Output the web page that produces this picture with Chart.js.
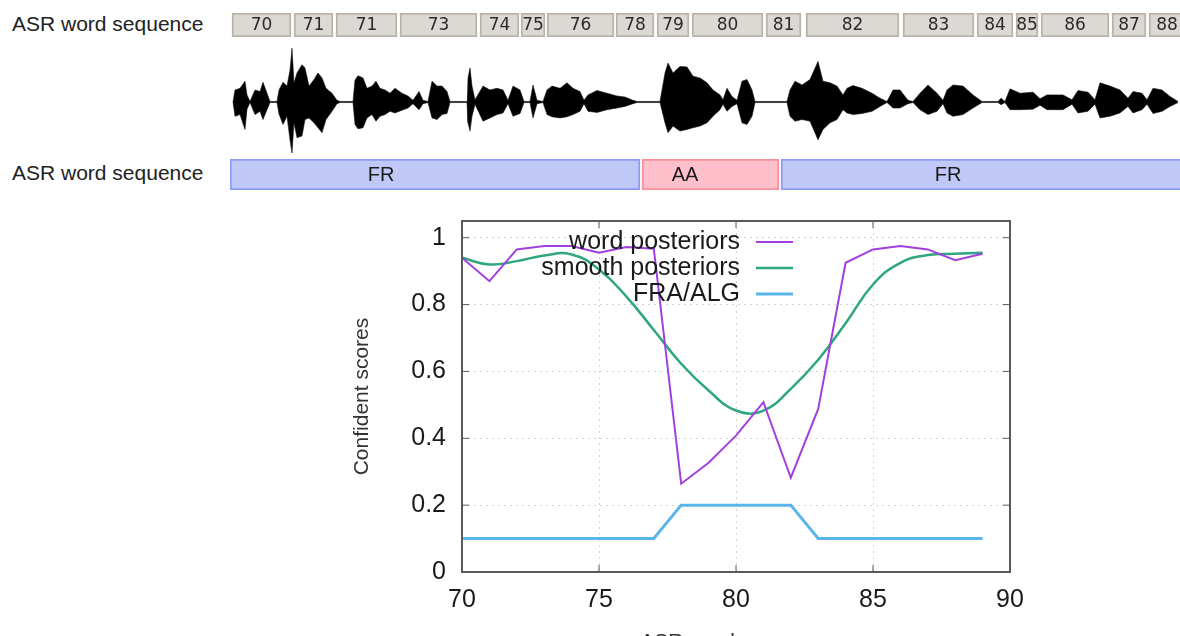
<!DOCTYPE html>
<html>
<head>
<meta charset="utf-8">
<script src="https://cdn.jsdelivr.net/npm/chart.js@4.4.1/dist/chart.umd.min.js"></script>
<style>
  html, body { margin: 0; padding: 0; width: 1180px; height: 636px; overflow: hidden; background: #fff; }
  canvas { position: absolute; }
  .rowlabel {
    position: absolute; left: 12px; white-space: nowrap; line-height: 1;
    font-family: 'Liberation Sans', Arial, sans-serif; font-size: 21px; color: #222;
  }
</style>
</head>
<body>
<div class="rowlabel" style="top:13px">ASR word sequence</div>
<div class="rowlabel" style="top:162px">ASR word sequence</div>
<canvas id="words" width="950" height="24" style="left:230px;top:13px"></canvas>
<canvas id="wave" width="950" height="114" style="left:230px;top:45px"></canvas>
<canvas id="lang" width="950" height="31" style="left:230px;top:159px"></canvas>
<canvas id="scores" width="720" height="470" style="left:340px;top:190px"></canvas>
<script>
// ---- audio timeline (seconds) ----
const timelineEnd = 9.5;

// recognised words and their time spans
const wordLabels = ['70','71','71','73','74','75','76','78','79','80','81','82','83','84','85','86','87','88'];
const wordStart  = [0.02,0.64,1.06,1.70,2.50,2.91,3.17,3.86,4.27,4.62,5.36,5.76,6.73,7.47,7.86,8.11,8.82,9.19];
const wordEnd    = [0.61,1.03,1.67,2.47,2.89,3.15,3.84,4.24,4.59,5.33,5.71,6.69,7.44,7.83,8.08,8.79,9.16,9.55];

// language segments and where their tags sit
const langLabels = ['FR','AA','FR'];
const langStart  = [0.00,4.12,5.51];
const langEnd    = [4.10,5.49,9.55];
const langTagAt  = [1.51,4.55,7.18];

// waveform amplitude envelope (normalised)
const waveTime = [0.03,0.05,0.10,0.15,0.17,0.20,0.25,0.30,0.33,0.37,
  0.40,0.47,0.49,0.53,0.57,0.60,0.62,0.64,0.67,0.72,
  0.75,0.79,0.84,0.88,0.92,0.96,1.02,1.07,1.10,1.23,
  1.25,1.28,1.33,1.37,1.42,1.46,1.50,1.55,1.60,1.65,
  1.72,1.78,1.83,1.89,1.93,1.98,2.02,2.07,2.12,2.17,
  2.20,2.37,2.38,2.40,2.42,2.45,2.53,2.60,2.67,2.73,
  2.78,2.83,2.90,2.94,3.00,3.03,3.07,3.13,3.17,3.22,
  3.30,3.37,3.43,3.50,3.54,3.58,3.67,3.77,3.87,3.95,
  4.03,4.07,4.27,4.30,4.35,4.38,4.43,4.50,4.57,4.63,
  4.70,4.77,4.83,4.90,4.93,4.97,5.02,5.07,5.12,5.17,
  5.22,5.25,5.57,5.60,5.65,5.72,5.80,5.88,5.93,6.00,
  6.07,6.13,6.17,6.23,6.32,6.42,6.50,6.57,6.63,6.70,
  6.78,6.83,6.90,6.98,7.07,7.13,7.17,7.23,7.33,7.43,
  7.52,7.68,7.71,7.75,7.80,7.90,8.03,8.10,8.17,8.33,
  8.42,8.48,8.58,8.65,8.70,8.80,8.90,8.98,9.03,9.12,
  9.17,9.23,9.32,9.40,9.48];
const waveUpper = [0,.22,.25,.38,.13,.01,.22,.19,.36,.16,
  .01,.01,.22,.36,.29,.58,.98,.35,.53,.68,
  .62,.29,.41,.53,.44,.25,.16,.03,.01,.01,
  .40,.48,.44,.25,.29,.38,.25,.22,.16,.25,
  .16,.11,.03,.19,.03,.01,.38,.29,.29,.19,
  .01,.01,.44,.62,.29,.04,.29,.22,.25,.22,
  .03,.29,.22,.01,.01,.31,.03,.01,.22,.29,
  .25,.35,.25,.19,.03,.13,.21,.16,.11,.09,
  .03,.01,.01,.01,.53,.71,.53,.65,.64,.47,
  .44,.35,.22,.13,.04,.25,.10,.03,.38,.41,
  .22,.01,.01,.22,.38,.31,.41,.74,.38,.35,
  .29,.13,.25,.30,.25,.16,.07,.01,.22,.22,
  .03,.01,.16,.31,.16,.03,.22,.31,.29,.13,
  .01,.01,.07,.01,.24,.16,.18,.06,.13,.13,
  .04,.21,.18,.04,.35,.29,.22,.07,.19,.16,
  .04,.25,.22,.10,.01];
const waveLower = [0,-.26,-.23,-.50,-.13,-.01,-.23,-.17,-.32,-.14,
  -.01,-.01,-.22,-.41,-.26,-.69,-.93,-.38,-.65,-.62,
  -.32,-.29,-.38,-.47,-.56,-.32,-.17,-.03,-.01,-.01,
  -.41,-.49,-.47,-.29,-.23,-.35,-.26,-.23,-.17,-.20,
  -.15,-.11,-.03,-.14,-.03,-.01,-.29,-.32,-.23,-.21,
  -.01,-.01,-.38,-.53,-.26,-.04,-.35,-.29,-.23,-.20,
  -.03,-.26,-.21,-.01,-.01,-.29,-.03,-.01,-.23,-.27,
  -.29,-.27,-.23,-.17,-.03,-.17,-.19,-.14,-.11,-.08,
  -.03,-.01,-.01,-.01,-.38,-.56,-.44,-.53,-.50,-.47,
  -.44,-.38,-.26,-.14,-.04,-.17,-.08,-.03,-.38,-.41,
  -.26,-.01,-.01,-.26,-.35,-.32,-.35,-.69,-.50,-.38,
  -.32,-.14,-.20,-.23,-.21,-.17,-.08,-.01,-.11,-.11,
  -.03,-.01,-.14,-.23,-.17,-.03,-.20,-.26,-.23,-.11,
  -.01,-.01,-.05,-.01,-.14,-.14,-.13,-.06,-.14,-.14,
  -.04,-.20,-.17,-.04,-.29,-.26,-.20,-.08,-.20,-.14,
  -.04,-.21,-.17,-.08,-.01];

// ---- confidence scores per word index ----
const wordIndex        = [70,71,72,73,74,75,76,77,78,79,80,81,82,83,84,85,86,87,88,89];
const wordPosteriors   = [0.94,0.87,0.965,0.975,0.975,0.955,0.972,0.967,0.264,0.327,0.408,0.508,0.282,0.488,0.925,0.965,0.975,0.965,0.933,0.952];
const smoothPosteriors = [0.94,0.92,0.93,0.947,0.95,0.905,0.824,0.724,0.623,0.543,0.483,0.483,0.548,0.635,0.744,0.86,0.925,0.948,0.952,0.955];
const fraAlg           = [0.1,0.1,0.1,0.1,0.1,0.1,0.1,0.1,0.2,0.2,0.2,0.2,0.2,0.1,0.1,0.1,0.1,0.1,0.1,0.1];
const scoreTicks       = [0,0.2,0.4,0.6,0.8,1];

Chart.defaults.font.family = "'Liberation Sans', Arial, sans-serif";

// writes a text label on each bar (at its centre, or at a given time)
const barText = {
  id: 'barText',
  afterDatasetsDraw(chart, args, opts) {
    const ctx = chart.ctx;
    const meta = chart.getDatasetMeta(0);
    ctx.save();
    ctx.font = opts.font;
    ctx.fillStyle = opts.color;
    ctx.textAlign = 'center';
    ctx.textBaseline = 'middle';
    meta.data.forEach((el, i) => {
      const p = el.getProps(['x', 'base', 'y'], true);
      const cx = opts.at ? chart.scales.x.getPixelForValue(opts.at[i]) : (p.x + p.base) / 2;
      ctx.fillText(opts.labels[i], cx, p.y + (opts.dy || 0));
    });
    ctx.restore();
  }
};

const hiddenTimeline = {
  x: { type: 'linear', min: 0, max: timelineEnd, display: false },
  y: { display: false }
};
const quiet = { legend: { display: false }, tooltip: { enabled: false } };

// word boxes
new Chart(document.getElementById('words'), {
  type: 'bar',
  data: {
    labels: ['w'],
    datasets: [{
      data: wordStart.map((s, i) => ({ x: [s, wordEnd[i]], y: 'w' })),
      backgroundColor: '#dcd9d4', borderColor: '#bab3aa', borderWidth: 2,
      borderSkipped: false, barPercentage: 1, categoryPercentage: 1
    }]
  },
  options: {
    indexAxis: 'y', responsive: false, animation: false, events: [],
    layout: { padding: 0 },
    plugins: { ...quiet, barText: { labels: wordLabels, font: "17px 'DejaVu Sans'", color: '#2a2a2a', dy: 1 } },
    scales: hiddenTimeline
  },
  plugins: [barText]
});

// waveform envelope
new Chart(document.getElementById('wave'), {
  type: 'line',
  data: {
    datasets: [
      { data: waveTime.map((t, i) => ({ x: t, y: waveUpper[i] })), borderColor: '#111', borderWidth: 0.6, pointRadius: 0, fill: false },
      { data: waveTime.map((t, i) => ({ x: t, y: waveLower[i] })), borderColor: '#111', backgroundColor: '#000', borderWidth: 0.6, pointRadius: 0, fill: '-1' }
    ]
  },
  options: {
    responsive: false, animation: false, events: [],
    layout: { padding: 0 },
    plugins: quiet,
    scales: {
      x: { type: 'linear', min: 0, max: timelineEnd, display: false },
      y: { min: -1.04, max: 1.04, display: false }
    }
  }
});

// language segments
new Chart(document.getElementById('lang'), {
  type: 'bar',
  data: {
    labels: ['l'],
    datasets: [{
      data: langStart.map((s, i) => ({ x: [s, langEnd[i]], y: 'l' })),
      backgroundColor: langLabels.map(l => l === 'AA' ? '#ffc0cb' : '#c0c8f8'),
      borderColor: langLabels.map(l => l === 'AA' ? '#f7909a' : '#8d9cf3'),
      borderWidth: 2, borderSkipped: false, barPercentage: 1, categoryPercentage: 1
    }]
  },
  options: {
    indexAxis: 'y', responsive: false, animation: false, events: [],
    layout: { padding: 0 },
    plugins: { ...quiet, barText: { labels: langLabels, at: langTagAt, font: "20px 'Liberation Sans'", color: '#1a1a1a', dy: 1 } },
    scales: hiddenTimeline
  },
  plugins: [barText]
});

// plot frame with inward tick marks
const frame = {
  id: 'frame',
  afterDatasetsDraw(chart, args, o) {
    const { ctx, chartArea: a, scales: { x, y } } = chart;
    ctx.save();
    ctx.strokeStyle = o.color;
    ctx.lineWidth = 1;
    ctx.beginPath();
    x.ticks.forEach(t => {
      const px = x.getPixelForValue(t.value);
      ctx.moveTo(px, a.bottom); ctx.lineTo(px, a.bottom - o.tick);
      ctx.moveTo(px, a.top); ctx.lineTo(px, a.top + o.tick);
    });
    y.ticks.forEach(t => {
      const py = y.getPixelForValue(t.value);
      ctx.moveTo(a.left, py); ctx.lineTo(a.left + o.tick, py);
      ctx.moveTo(a.right, py); ctx.lineTo(a.right - o.tick, py);
    });
    ctx.stroke();
    ctx.lineWidth = o.width;
    ctx.strokeRect(a.left, a.top, a.right - a.left, a.bottom - a.top);
    ctx.restore();
  }
};

// key: right-aligned text followed by a line sample
const keyLegend = {
  id: 'keyLegend',
  afterDatasetsDraw(chart, args, o) {
    const { ctx, chartArea: a } = chart;
    ctx.save();
    ctx.font = o.font;
    ctx.textAlign = 'right';
    ctx.textBaseline = 'middle';
    chart.data.datasets.forEach((ds, i) => {
      const yy = a.top + o.top + i * o.rowHeight;
      ctx.fillStyle = o.color;
      ctx.fillText(ds.label, a.left + o.textRight, yy);
      ctx.strokeStyle = ds.borderColor;
      ctx.lineWidth = ds.borderWidth;
      ctx.beginPath();
      ctx.moveTo(a.left + o.lineStart, yy);
      ctx.lineTo(a.left + o.lineEnd, yy);
      ctx.stroke();
    });
    ctx.restore();
  }
};

const pts = arr => wordIndex.map((x, i) => ({ x, y: arr[i] }));

new Chart(document.getElementById('scores'), {
  type: 'line',
  data: {
    datasets: [
      { label: 'word posteriors', data: pts(wordPosteriors), borderColor: '#a23fe0', borderWidth: 2, pointRadius: 0, tension: 0 },
      { label: 'smooth posteriors', data: pts(smoothPosteriors), borderColor: '#2fa67f', borderWidth: 2.5, pointRadius: 0, tension: 0.45 },
      { label: 'FRA/ALG', data: pts(fraAlg), borderColor: '#5ab6ea', borderWidth: 3, pointRadius: 0, tension: 0 }
    ]
  },
  options: {
    responsive: false, animation: false, events: [],
    layout: { padding: { left: 0, top: 21, right: 50, bottom: 5 } },
    plugins: {
      ...quiet,
      frame: { color: '#5a5a5a', width: 2, tick: 7 },
      keyLegend: { font: "25px 'Liberation Sans'", color: '#1a1a1a', top: 21, rowHeight: 26, textRight: 278, lineStart: 294, lineEnd: 331 }
    },
    scales: {
      x: {
        type: 'linear', min: 70, max: 90,
        afterFit(s) { s.height = 83; },
        ticks: { stepSize: 5, padding: 13, color: '#1a1a1a', font: { size: 25 }, maxRotation: 0, autoSkip: false },
        grid: { color: '#d2d2d2', lineWidth: 1, drawTicks: false },
        border: { display: false, dash: [2, 4] },
        title: { display: true, text: 'ASR word sequence', color: '#333', font: { size: 21 }, padding: 0 }
      },
      y: {
        min: 0, max: 1.05,
        afterFit(s) { s.width = 122; },
        afterBuildTicks(s) { s.ticks = scoreTicks.map(v => ({ value: v })); },
        ticks: { color: '#1a1a1a', font: { size: 25 }, padding: 16, callback: v => String(+v.toFixed(2)) },
        grid: { color: '#d2d2d2', lineWidth: 1, drawTicks: false },
        border: { display: false, dash: [2, 4] },
        title: { display: true, text: 'Confident scores', color: '#333', font: { size: 21 }, padding: { top: 10, bottom: 0 } }
      }
    }
  },
  plugins: [frame, keyLegend]
});
</script>
</body>
</html>
